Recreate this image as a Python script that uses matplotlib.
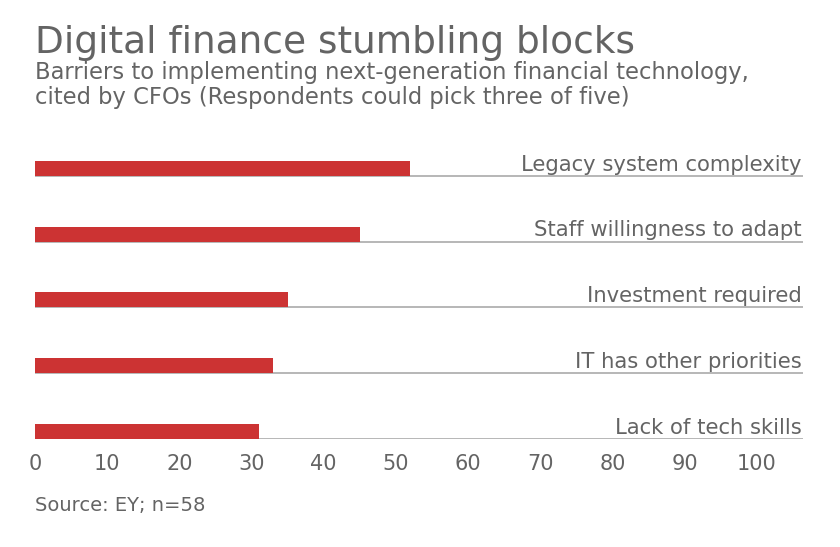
import numpy as np
import matplotlib.pyplot as plt

categories = ["Legacy system complexity", "Staff willingness to adapt",
              "Investment required", "IT has other priorities",
              "Lack of tech skills"]
values = [52, 45, 35, 33, 31]
ticks = [0, 10, 20, 30, 40, 50, 60, 70, 80, 90, 100]

red = "#cc3333"
grey_txt = "#646464"
grey_line = "#aaaaaa"

plt.rcParams['font.family'] = ['DejaVu Sans']

W, H = 840, 547
fig = plt.figure(figsize=(8.4, 5.47), dpi=100)

# axes placed in pixel terms
left, right = 35, 803
top, bottom = 143, 439
ax = fig.add_axes([left / W, 1 - bottom / H, (right - left) / W, (bottom - top) / H])

ys = -np.arange(len(categories))
ax.barh(ys, values, height=0.23, align='edge', color=red, zorder=2)
for y, lab in zip(ys, categories):
    ax.axhline(y, color=grey_line, lw=1.2, zorder=1)
    ax.text(106.2, y + 0.08, lab, ha='right', va='baseline',
            fontsize=15.2, color=grey_txt)

ax.set_xlim(0, 106.4)
ax.set_ylim(-4, 0.5)
ax.set_xticks(ticks)
ax.set_xticklabels([str(t) for t in ticks])
ax.tick_params(axis='x', length=0, pad=11, labelsize=15, colors=grey_txt)
ax.set_yticks([])
for s in ax.spines.values():
    s.set_visible(False)

fig.text(left / W, 1 - 53 / H, "Digital finance stumbling blocks",
         fontsize=27, color=grey_txt, va='baseline')
fig.text(left / W, 1 - 79 / H,
         "Barriers to implementing next-generation financial technology,",
         fontsize=16.3, color=grey_txt, va='baseline')
fig.text(left / W, 1 - 104 / H,
         "cited by CFOs (Respondents could pick three of five)",
         fontsize=16.3, color=grey_txt, va='baseline')
fig.text(left / W, 1 - 511 / H, "Source: EY; n=58",
         fontsize=14, color=grey_txt, va='baseline')

fig.savefig("out.png", dpi=100)
